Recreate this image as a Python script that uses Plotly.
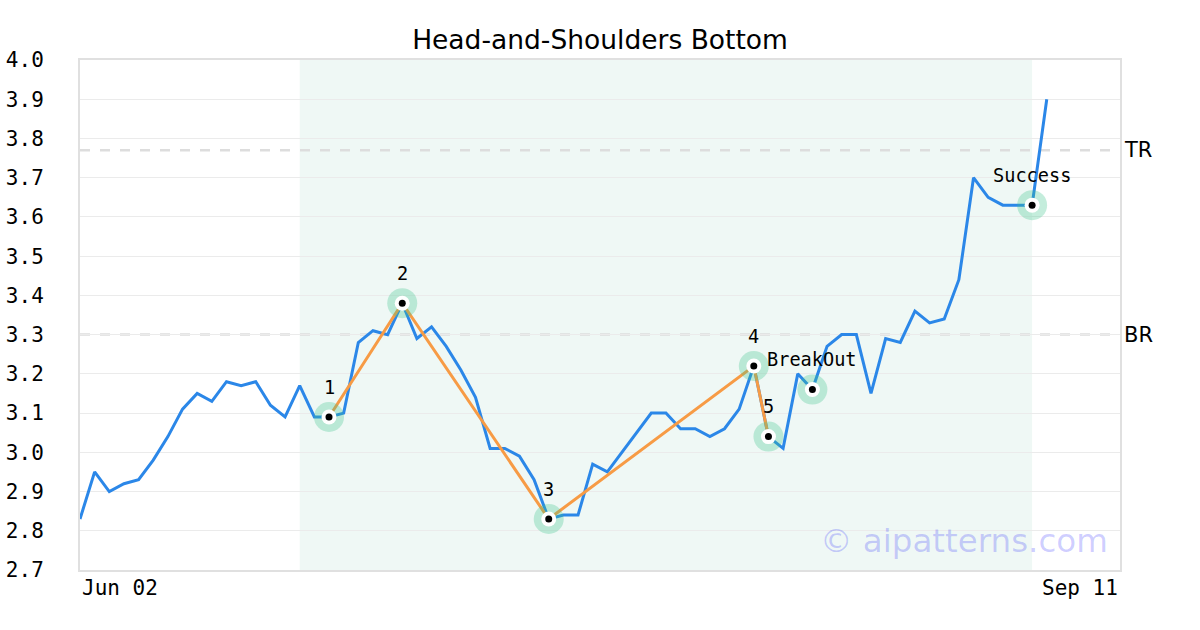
import plotly.graph_objects as go

# ---- data ----
prices = [2.83, 2.95, 2.90, 2.92, 2.93, 2.98, 3.04, 3.11, 3.15, 3.13,
          3.18, 3.17, 3.18, 3.12, 3.09, 3.17, 3.09, 3.09, 3.10, 3.28,
          3.31, 3.30, 3.38, 3.29, 3.32, 3.27, 3.21, 3.14, 3.01, 3.01,
          2.99, 2.93, 2.83, 2.84, 2.84, 2.97, 2.95, 3.00, 3.05, 3.10,
          3.10, 3.06, 3.06, 3.04, 3.06, 3.11, 3.22, 3.04, 3.01, 3.20,
          3.16, 3.27, 3.30, 3.30, 3.15, 3.29, 3.28, 3.36, 3.33, 3.34,
          3.44, 3.70, 3.65, 3.63, 3.63, 3.63, 3.90]
day_index = list(range(len(prices)))
axis_end_index = 71
date_labels = ["Jun 02", "Sep 11"]

pattern_idx = [17, 22, 32, 46, 47]
pattern_labels = ["1", "2", "3", "4", "5"]
event_idx = [50, 65]
event_labels = ["BreakOut", "Success"]
shade_range = [15, 65]

top_resistance = 3.77
bottom_resistance = 3.30
level_labels = ["TR", "BR"]

title_text = "Head-and-Shoulders Bottom"
watermark = "© aipatterns.com"

# ---- figure ----
mono = "DejaVu Sans Mono"
sans = "DejaVu Sans"

pat_y = [prices[i] for i in pattern_idx]
all_idx = pattern_idx + event_idx
all_y = [prices[i] for i in all_idx]
all_labels = pattern_labels + event_labels

fig = go.Figure()

fig.add_trace(go.Scatter(x=day_index, y=prices, mode="lines",
                         line=dict(color="#2b87e8", width=3),
                         hoverinfo="skip", showlegend=False))
fig.add_trace(go.Scatter(x=pattern_idx, y=pat_y, mode="lines",
                         line=dict(color="#f79b45", width=3),
                         hoverinfo="skip", showlegend=False))
fig.add_trace(go.Scatter(x=all_idx, y=all_y, mode="markers",
                         marker=dict(size=30, color="rgba(60,196,138,0.30)", line=dict(width=0)),
                         hoverinfo="skip", showlegend=False))
fig.add_trace(go.Scatter(x=all_idx, y=all_y, mode="markers",
                         marker=dict(size=15, color="white", line=dict(width=0)),
                         hoverinfo="skip", showlegend=False))
fig.add_trace(go.Scatter(x=all_idx, y=all_y, mode="markers",
                         marker=dict(size=7, color="black", line=dict(width=0)),
                         hoverinfo="skip", showlegend=False))

shapes = [
    dict(type="rect", xref="x", yref="paper", x0=shade_range[0], x1=shade_range[1],
         y0=0, y1=1, fillcolor="#eff8f5", line=dict(width=0), layer="below"),
    dict(type="line", xref="paper", yref="y", x0=0, x1=1, y0=top_resistance, y1=top_resistance,
         line=dict(color="#dddddd", width=2.5, dash="10px,10px"), layer="below"),
    dict(type="line", xref="paper", yref="y", x0=0, x1=1, y0=bottom_resistance, y1=bottom_resistance,
         line=dict(color="#dddddd", width=2.5, dash="10px,10px"), layer="below"),
]

annotations = []
for xi, yi, lab in zip(all_idx, all_y, all_labels):
    annotations.append(dict(x=xi, y=yi, xref="x", yref="y", text=lab, showarrow=False,
                            yshift=30, font=dict(family=mono, size=18.6, color="black")))
for yv, lab in zip([top_resistance, bottom_resistance], level_labels):
    annotations.append(dict(x=1, y=yv, xref="paper", yref="y", text=lab, showarrow=False,
                            xanchor="left", xshift=2, font=dict(family=sans, size=21, color="black")))
annotations.append(dict(x=0, y=0, xref="x", yref="paper", text=date_labels[0], showarrow=False,
                        xanchor="left", yanchor="top", yshift=-4,
                        font=dict(family=mono, size=21, color="black")))
annotations.append(dict(x=axis_end_index, y=0, xref="x", yref="paper", text=date_labels[1], showarrow=False,
                        xanchor="right", yanchor="top", yshift=-4,
                        font=dict(family=mono, size=21, color="black")))
annotations.append(dict(x=0.9904, y=0.057, xref="paper", yref="paper", text=watermark, showarrow=False,
                        xanchor="right", yanchor="middle",
                        font=dict(family=sans, size=32.5, color="rgba(0,0,255,0.2)")))

fig.update_layout(
    width=1200, height=630,
    margin=dict(l=80, r=80, t=60, b=60, autoexpand=False),
    paper_bgcolor="white", plot_bgcolor="white",
    title=dict(text=title_text, x=0.5, xanchor="center", y=0.937, yanchor="middle",
               font=dict(family=sans, size=26.5, color="black")),
    shapes=shapes, annotations=annotations,
    xaxis=dict(range=[0, axis_end_index], showticklabels=False, showgrid=False,
               zeroline=False, showline=True, linecolor="#e0e0e0", linewidth=2, mirror=True,
               ticks="", automargin=False),
    yaxis=dict(range=[2.7, 4.0], dtick=0.1, tick0=2.7, tickformat=".1f",
               showgrid=True, gridcolor="#ebebeb", gridwidth=1, zeroline=False,
               showline=True, linecolor="#e0e0e0", linewidth=2, mirror=True,
               ticks="", ticklabelstandoff=30, automargin=False,
               tickfont=dict(family=mono, size=21, color="black")),
)

fig.write_html("out.html", config={"displayModeBar": False},
               post_script="document.body.style.margin='0px';")
